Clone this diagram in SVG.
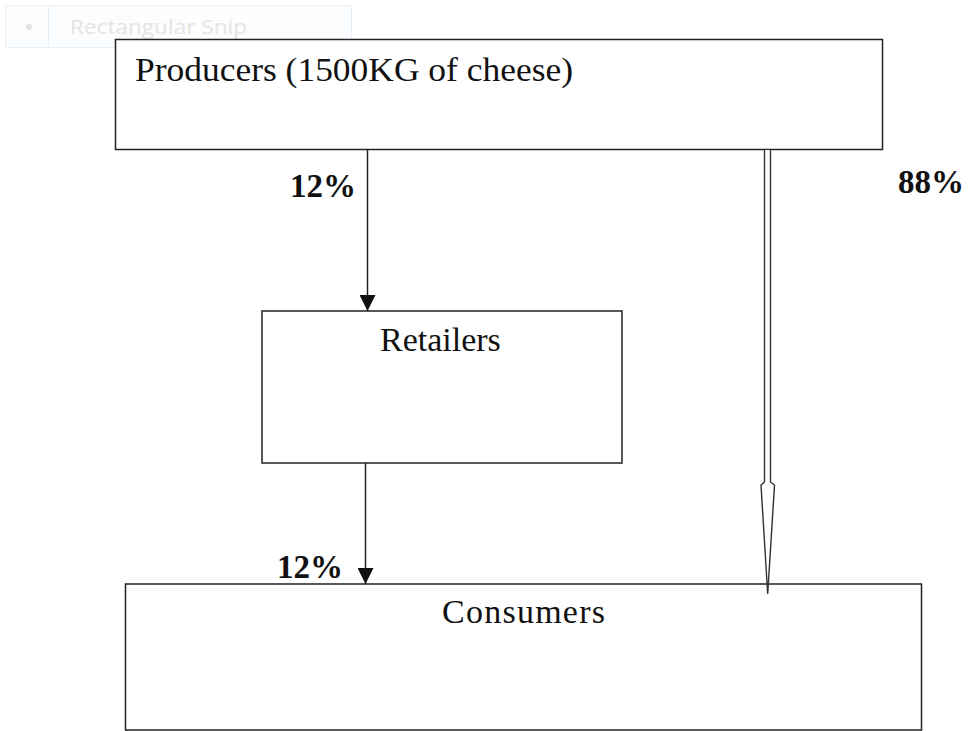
<svg xmlns="http://www.w3.org/2000/svg" width="969" height="731" viewBox="0 0 969 731">
<style>
.box{fill:#fff;stroke:#222;stroke-width:1.5}
.lbl{font-family:"Liberation Serif","Times New Roman",serif;font-size:34px;fill:#111}
.pct{font-family:"Liberation Serif","Times New Roman",serif;font-size:33px;font-weight:bold;fill:#111}
.ln{stroke:#222;stroke-width:1.5;fill:none}
</style>
<defs>
<marker id="ah" viewBox="0 0 16 16" refX="16" refY="8" markerWidth="16" markerHeight="16" markerUnits="userSpaceOnUse" orient="auto">
<path d="M0,0 L16,8 L0,16 Z" fill="#111"/>
</marker>
</defs>
<rect width="969" height="731" fill="#fff"/>
<g id="snip">
<rect x="5.5" y="5.5" width="346" height="42" fill="#fbfdff" stroke="#e6eef8"/>
<line x1="48.5" y1="5.5" x2="48.5" y2="47.5" stroke="#e6eef8"/>
<circle cx="29" cy="27" r="3" fill="#e2e2e2"/>
<text x="70" y="34" font-family="'Open Sans','Liberation Sans',sans-serif" font-size="20" fill="#e4e4e4" textLength="177" lengthAdjust="spacingAndGlyphs">Rectangular Snip</text>
</g>
<g id="producers">
<rect class="box" x="115.5" y="39.5" width="767" height="110"/>
<text class="lbl" x="135" y="81" textLength="438" lengthAdjust="spacingAndGlyphs">Producers (1500KG of cheese)</text>
</g>
<g id="retailers">
<rect class="box" x="262" y="311" width="360" height="152"/>
<text class="lbl" x="380" y="351">Retailers</text>
</g>
<g id="consumers">
<rect class="box" x="125.5" y="584" width="796" height="146"/>
<text class="lbl" x="442" y="623" textLength="163">Consumers</text>
</g>
<g id="connectors">
<line class="ln" x1="367.5" y1="150" x2="367.5" y2="311" marker-end="url(#ah)"/>
<line class="ln" x1="365.5" y1="463" x2="365.5" y2="584" marker-end="url(#ah)"/>
<path d="M764.5,150 L764.5,482 L761,485 L767.7,594 L774.5,485 L770.5,482 L770.5,150" fill="#fff" stroke="#333" stroke-width="1.4" stroke-linejoin="miter"/>
</g>
<g id="labels">
<text class="pct" x="290" y="197">12%</text>
<text class="pct" x="898" y="193">88%</text>
<text class="pct" x="277" y="578">12%</text>
</g>
</svg>
